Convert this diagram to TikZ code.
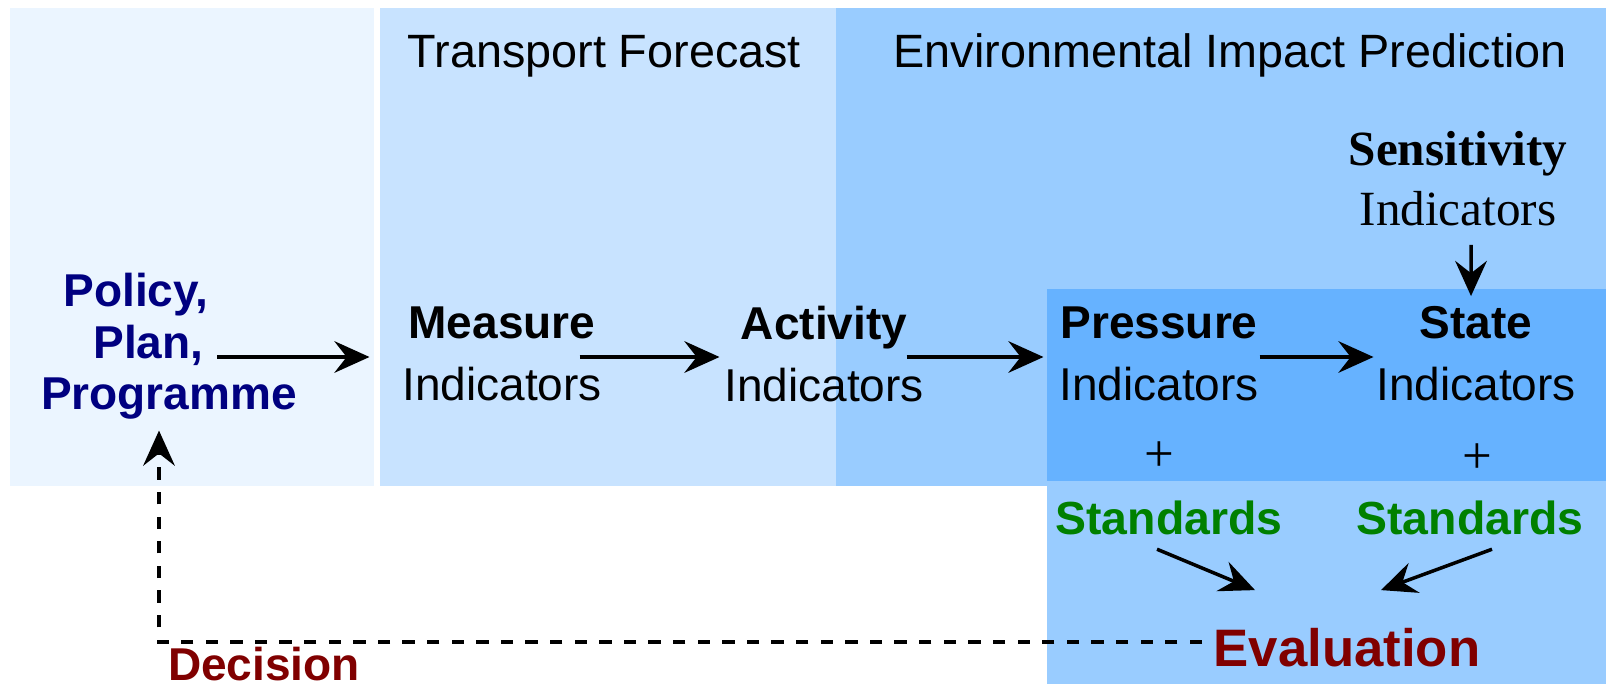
\documentclass[tikz,border=0pt]{standalone}
\usepackage{fontspec}
\setmainfont{Liberation Sans}
\newfontfamily\serifface{Liberation Serif}
\usetikzlibrary{arrows.meta,calc}

\definecolor{panelA}{HTML}{EBF5FF}
\definecolor{panelB}{HTML}{C8E3FF}
\definecolor{panelC}{HTML}{99CCFF}
\definecolor{panelD}{HTML}{66B2FF}
\definecolor{navytext}{HTML}{000080}
\definecolor{stdgreen}{HTML}{008000}
\definecolor{evalred}{HTML}{800000}

\begin{document}
\begin{tikzpicture}[
    flow/.style={-{Stealth[length=10pt,width=9pt,inset=3.5pt]},line width=1pt},
    chain/.style={align=center,inner sep=0pt,font=\fontsize{13.1}{17.6}\selectfont},
    title/.style={anchor=base west,inner sep=0pt,font=\fontsize{13.3}{16}\selectfont},
    std/.style={inner sep=0pt,text=stdgreen,font=\fontsize{13.2}{16}\selectfont\bfseries},
    verdict/.style={anchor=base,inner sep=0pt,text=evalred,font=\bfseries}
  ]
  \useasboundingbox (0,0) rectangle (16.06,6.84);
  % background panels
  \fill[panelA] (0.10,1.98) rectangle (3.74,6.76);
  \fill[panelB] (3.80,1.98) rectangle (8.36,6.76);
  \fill[panelC] (8.36,1.98) rectangle (16.06,6.76);
  \fill[panelC] (10.47,0) rectangle (16.06,1.98);
  \fill[panelD] (10.47,2.03) rectangle (16.06,3.95);

  \node[title] (tf) at (4.07,6.16) {Transport Forecast};
  \node[title] (eip) at (8.93,6.16) {Environmental Impact Prediction};

  \node[chain,text=navytext,font=\fontsize{13.1}{14.6}\selectfont\bfseries] (policy) at (1.69,3.375)
    {Policy,\kern0.66cm\\Plan,\kern0.41cm\\Programme};
  \node[chain] (measure) at (5.02,3.30) {\textbf{Measure}\\Indicators};
  \node[chain] (activity) at (8.24,3.30) {\textbf{Activity}\\Indicators};
  \node[chain] (pressure) at (11.59,3.30) {\textbf{Pressure}\\Indicators};
  \node[chain] (state) at (14.76,3.30) {\textbf{State}\\Indicators};
  \node[chain,font=\serifface\fontsize{14}{17}\selectfont] (sens) at (14.58,5.05)
    {\textbf{Sensitivity}\\Indicators};

  \foreach \n/\x/\y in {1/11.59/2.27,2/14.77/2.25}
    {\node[inner sep=0pt,font=\serifface\fontsize{15}{16}\selectfont] (plus\n) at (\x,\y) {+};}

  \node[std] (std1) at (11.69,1.665) {Standards};
  \node[std] (std2) at (14.70,1.665) {Standards};
  \node[verdict,font=\fontsize{15}{18}\selectfont\bfseries] (eval) at (13.47,0.18) {Evaluation};
  \node[verdict,font=\fontsize{13.1}{16}\selectfont\bfseries] (decision) at (2.64,0.04) {Decision};

  % indicator chain
  \draw[flow] ($(policy.center)+(0.48,-0.105)$) -- ($(measure.west)+(-0.32,-0.03)$);
  \foreach \a/\b/\s/\t in {measure/activity/-0.23/-0.04,activity/pressure/-0.18/-0.15,pressure/state/0/-0.02}
    {\draw[flow] ($(\a.east)+(\s,-0.03)$) -- ($(\b.west)+(\t,-0.03)$);}
  \draw[flow] ($(sens.south)+(0.13,-0.18)$) -- ($(state.north)+(-0.05,0.1)$);

  % standards into evaluation
  \draw[flow] ($(std1.south)+(-0.12,-0.14)$) -- ($(eval.north)+(-0.92,0.37)$);
  \draw[flow] ($(std2.south)+(0.22,-0.14)$) -- ($(eval.north)+(0.34,0.37)$);

  % decision loop back
  \draw[flow,dash pattern=on 3.5pt off 3.5pt]
    ($(eval.west)+(-0.11,0.05)$) -| ($(policy.south)+(-0.10,-0.105)$);
\end{tikzpicture}
\end{document}
